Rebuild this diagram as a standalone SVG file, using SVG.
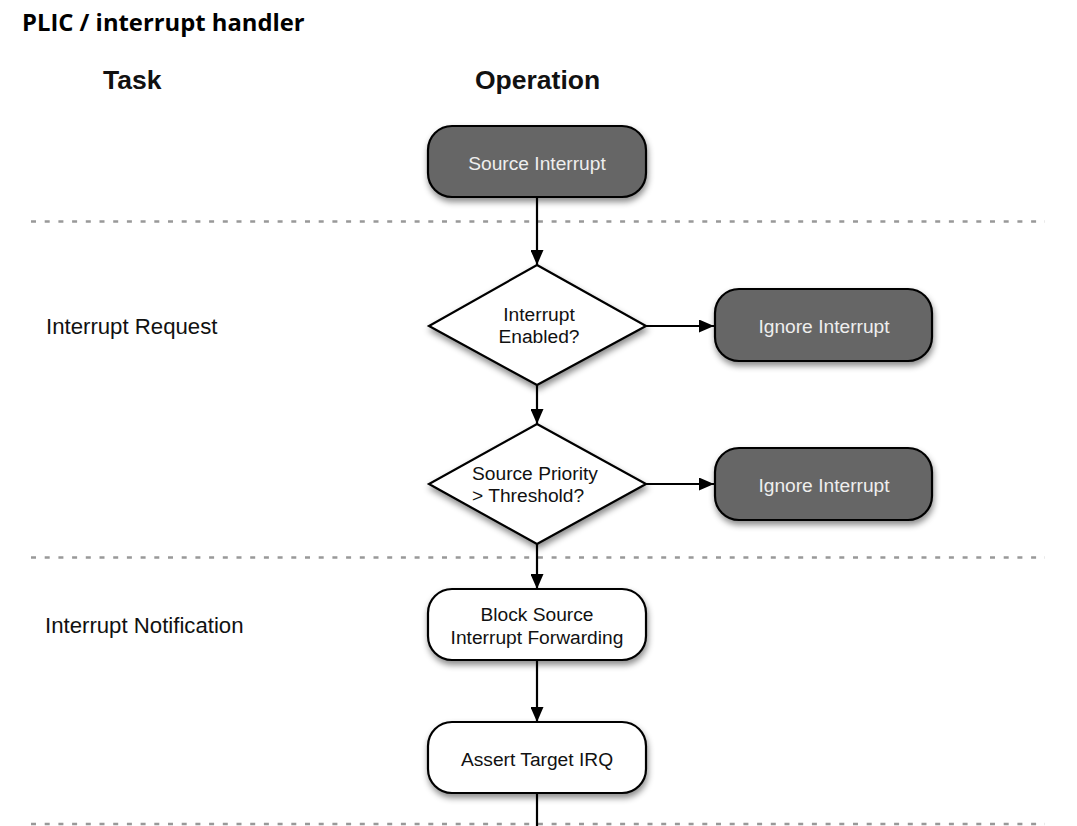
<svg xmlns="http://www.w3.org/2000/svg" width="1077" height="826" viewBox="0 0 1077 826">
<style>
.box{stroke:#000;stroke-width:2.2}
.dark{fill:#666}
.light{fill:#fff}
.dash{stroke:#999;stroke-width:2.5;stroke-dasharray:5 8.7;fill:none}
.conn{stroke:#000;stroke-width:2.2;fill:none}
.t{font-family:"Liberation Sans",Arial,sans-serif;font-size:19.2px}
.tw{fill:#eeeeee}
.tb{fill:#111}
.lab{font-family:"Liberation Sans",Arial,sans-serif;font-size:22.2px;fill:#111}
.hdr{font-family:"Liberation Sans",Arial,sans-serif;font-size:26.5px;font-weight:bold;fill:#111}
.title{font-family:"Open Sans","Noto Sans",sans-serif;font-size:23.8px;font-weight:bold;fill:#000}
</style>
<defs>
<filter id="sh" x="-20%" y="-20%" width="140%" height="150%">
<feDropShadow dx="1" dy="4" stdDeviation="3" flood-color="#000" flood-opacity="0.45"/>
</filter>
<marker id="ah" viewBox="0 0 15 13" refX="15" refY="6.5" markerWidth="15" markerHeight="13" markerUnits="userSpaceOnUse" orient="auto">
<path d="M0,0 L15,6.5 L0,13 Z" fill="#000"/>
</marker>
</defs>
<text class="title" x="22" y="31">PLIC / interrupt handler</text>
<text class="hdr" x="103" y="89">Task</text>
<text class="hdr" x="475" y="89">Operation</text>
<g id="lanes">
<line class="dash" x1="31" y1="221.5" x2="1045" y2="221.5"/>
<line class="dash" x1="31" y1="557.5" x2="1045" y2="557.5"/>
<line class="dash" x1="31" y1="824" x2="1045" y2="824"/>
<text class="lab" x="46" y="334">Interrupt Request</text>
<text class="lab" x="45" y="633">Interrupt Notification</text>
</g>
<g id="connectors">
<line class="conn" x1="537" y1="197" x2="537" y2="265" marker-end="url(#ah)"/>
<line class="conn" x1="646" y1="326" x2="714" y2="326" marker-end="url(#ah)"/>
<line class="conn" x1="537" y1="385" x2="537" y2="424" marker-end="url(#ah)"/>
<line class="conn" x1="646" y1="484" x2="714" y2="484" marker-end="url(#ah)"/>
<line class="conn" x1="537" y1="544" x2="537" y2="589" marker-end="url(#ah)"/>
<line class="conn" x1="537" y1="660" x2="537" y2="722" marker-end="url(#ah)"/>
<line class="conn" x1="537" y1="793" x2="537" y2="826"/>
</g>
<g id="source-interrupt">
<rect class="box dark" x="428" y="126" width="218" height="71" rx="24" filter="url(#sh)"/>
<text class="t tw" x="537" y="170" text-anchor="middle">Source Interrupt</text>
</g>
<g id="interrupt-enabled">
<polygon class="box light" points="537,265 646,326 537,385 429,326" filter="url(#sh)"/>
<text class="t tb" x="539" y="321" text-anchor="middle">Interrupt</text>
<text class="t tb" x="539" y="343" text-anchor="middle">Enabled?</text>
</g>
<g id="ignore-interrupt-1">
<rect class="box dark" x="715" y="289" width="217" height="72" rx="24" filter="url(#sh)"/>
<text class="t tw" x="824" y="333" text-anchor="middle">Ignore Interrupt</text>
</g>
<g id="priority-threshold">
<polygon class="box light" points="537,424 646,484 537,544 429,484" filter="url(#sh)"/>
<text class="t tb" x="472" y="480">Source Priority</text>
<text class="t tb" x="472" y="502">&gt; Threshold?</text>
</g>
<g id="ignore-interrupt-2">
<rect class="box dark" x="715" y="448" width="217" height="72" rx="24" filter="url(#sh)"/>
<text class="t tw" x="824" y="492" text-anchor="middle">Ignore Interrupt</text>
</g>
<g id="block-source">
<rect class="box light" x="428" y="589" width="218" height="71" rx="24" filter="url(#sh)"/>
<text class="t tb" x="537" y="621" text-anchor="middle">Block Source</text>
<text class="t tb" x="537" y="644" text-anchor="middle">Interrupt Forwarding</text>
</g>
<g id="assert-irq">
<rect class="box light" x="428" y="722" width="218" height="71" rx="24" filter="url(#sh)"/>
<text class="t tb" x="537" y="766" text-anchor="middle">Assert Target IRQ</text>
</g>
</svg>
